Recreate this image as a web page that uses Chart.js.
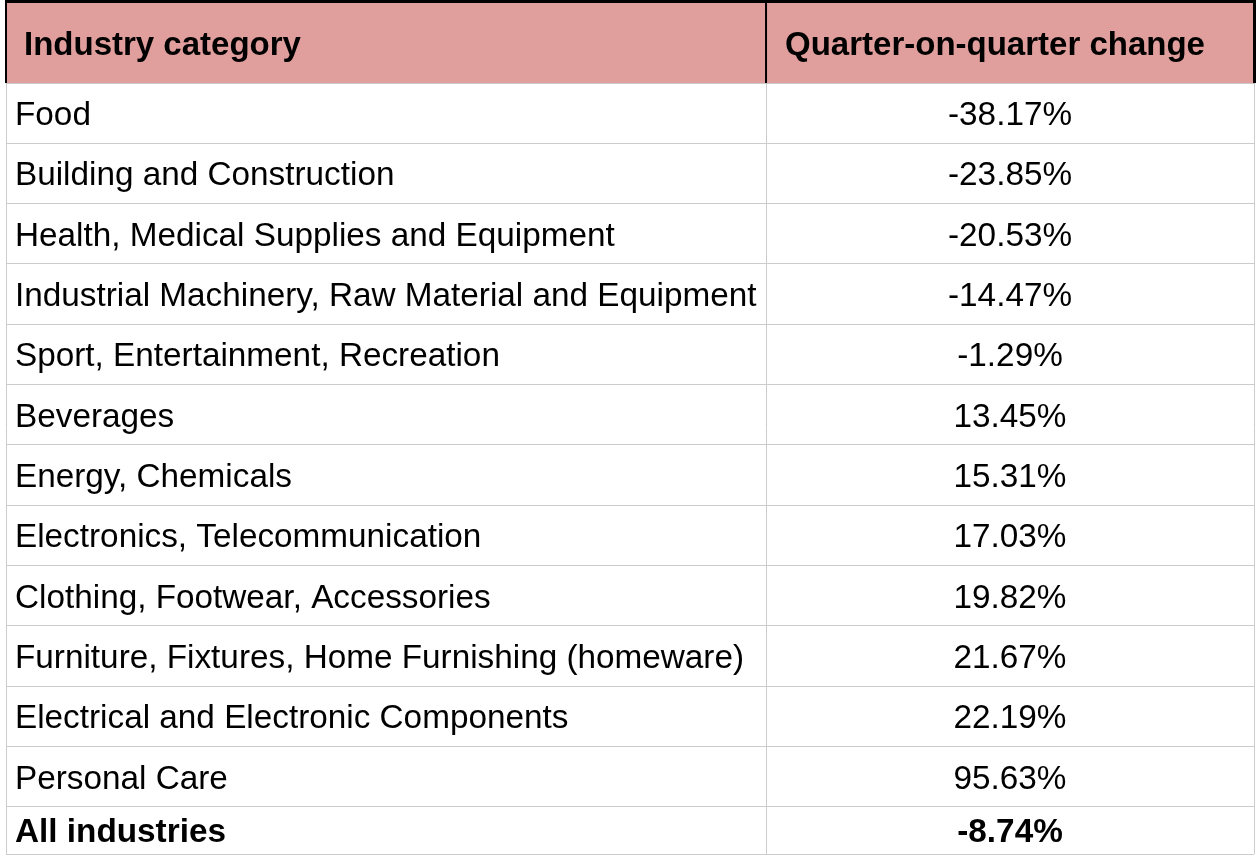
<!DOCTYPE html>
<html>
<head>
<meta charset="utf-8">
<script src="https://cdn.jsdelivr.net/npm/chart.js@4.4.1/dist/chart.umd.min.js"></script>
<style>
    html, body { margin: 0; padding: 0; background: #ffffff; }
</style>
</head>
<body>
<canvas id="tablaChart" width="1256" height="861"></canvas>
<script>
//  Data Block
const headers = ['Industry category', 'Quarter-on-quarter change'];

const categories = [
    'Food',
    'Building and Construction',
    'Health, Medical Supplies and Equipment',
    'Industrial Machinery, Raw Material and Equipment',
    'Sport, Entertainment, Recreation',
    'Beverages',
    'Energy, Chemicals',
    'Electronics, Telecommunication',
    'Clothing, Footwear, Accessories',
    'Furniture, Fixtures, Home Furnishing (homeware)',
    'Electrical and Electronic Components',
    'Personal Care'
];

const changes = [-38.17, -23.85, -20.53, -14.47, -1.29, 13.45, 15.31, 17.03, 19.82, 21.67, 22.19, 95.63];

const totalLabel = 'All industries';
const totalChange = -8.74;

document.addEventListener('DOMContentLoaded', function() {

    const rowLabels = categories.concat([totalLabel]);
    const rowValues = changes.concat([totalChange]);
    const nRows = rowLabels.length;

    //  layout in "row units" (one body row = 1)
    const headerSpan = 1.327;          // header row is taller
    const lastSpan = 0.784;            // total row is shorter
    const colSplit = 0.609;            // divider between the two columns (x 0..1)

    const rowTop = (i) => i;
    const rowBottom = (i) => (i === nRows - 1) ? (nRows - 1 + lastSpan) : i + 1;
    const rowMid = (i) => (rowTop(i) + rowBottom(i)) / 2;

    const edges = [];
    for (let i = 0; i < nRows; i++) edges.push(rowTop(i));
    edges.push(rowBottom(nRows - 1));

    const fontFam = "'Liberation Sans', Arial, Helvetica, sans-serif";
    const fmt = (v) => v.toFixed(2) + '%';

    //  Cells Plugin Block
    const tabla = {
        id: 'tabla',
        beforeDatasetsDraw(chart, args, options) {
            const { ctx, scales: { x, y } } = chart;
            const x0 = x.getPixelForValue(0), x1 = x.getPixelForValue(1), xs = x.getPixelForValue(colSplit);
            const hTop = y.getPixelForValue(-headerSpan), hBot = y.getPixelForValue(0);
            ctx.save();
            // header fill
            ctx.fillStyle = options.headerColor;
            ctx.fillRect(x0, hTop, x1 - x0, hBot - hTop);
            // header black frame
            ctx.fillStyle = '#000000';
            ctx.fillRect(x0 - 1, 0, x1 - x0 + 3, hTop);
            ctx.fillRect(x0 - 1, 0, 2, hBot);
            ctx.fillRect(xs - 1, 0, 2, hBot);
            ctx.fillRect(x1 - 1, 0, 4, hBot);
            ctx.restore();
        },
        afterDatasetsDraw(chart, args, options) {
            const { ctx, scales: { x, y } } = chart;
            const x0 = x.getPixelForValue(0), xs = x.getPixelForValue(colSplit);
            ctx.save();
            ctx.fillStyle = options.fontColor;
            ctx.textBaseline = 'alphabetic';

            // header texts
            ctx.font = 'bold ' + options.headerSize + 'px ' + fontFam;
            ctx.textAlign = 'left';
            const hMid = y.getPixelForValue(-headerSpan / 2);
            ctx.fillText(headers[0], x0 + 18, hMid + 12);
            ctx.fillText(headers[1], xs + 19, hMid + 12);

            // body texts, anchored on the dataset points (cell centres)
            const metaLab = chart.getDatasetMeta(0);
            const metaVal = chart.getDatasetMeta(1);
            for (let i = 0; i < nRows; i++) {
                const bold = (i === nRows - 1) ? 'bold ' : '';
                ctx.font = bold + options.fontSize + 'px ' + fontFam;
                ctx.textAlign = 'left';
                ctx.fillText(rowLabels[i], metaLab.data[i].x + 9, metaLab.data[i].y + 12);
                ctx.textAlign = 'center';
                ctx.fillText(fmt(rowValues[i]), metaVal.data[i].x, metaVal.data[i].y + 12);
            }
            ctx.restore();
        }
    };

    //  Config Block
    const config = {
        type: 'scatter',
        data: {
            datasets: [
                {
                    label: 'category',
                    data: rowLabels.map((c, i) => ({ x: 0, y: rowMid(i) })),
                    pointRadius: 0
                },
                {
                    label: 'change',
                    data: rowValues.map((v, i) => ({ x: (colSplit + 1) / 2, y: rowMid(i) })),
                    pointRadius: 0
                }
            ]
        },
        options: {
            responsive: false,
            animation: false,
            layout: { padding: { left: 6, right: 2, top: 3, bottom: 7 } },
            plugins: {
                legend: { display: false },
                tooltip: { enabled: false },
                tabla: {
                    headerColor: '#e09e9d',
                    fontColor: '#000000',
                    fontSize: 33.3,
                    headerSize: 33
                }
            },
            scales: {
                x: {
                    type: 'linear',
                    min: 0,
                    max: 1,
                    afterBuildTicks: (scale) => { scale.ticks = [0, colSplit, 1].map(v => ({ value: v })); },
                    ticks: { display: false },
                    grid: { color: '#cccccc', lineWidth: 1, drawTicks: false },
                    border: { display: false }
                },
                y: {
                    type: 'linear',
                    reverse: true,
                    min: -headerSpan,
                    max: rowBottom(nRows - 1),
                    afterBuildTicks: (scale) => { scale.ticks = edges.map(v => ({ value: v })); },
                    ticks: { display: false },
                    grid: { color: '#cccccc', lineWidth: 1, drawTicks: false },
                    border: { display: false }
                }
            }
        },
        plugins: [tabla]
    };

    //  Render Init Block
    const tablaChart = new Chart(document.getElementById('tablaChart'), config);

});
</script>
</body>
</html>
